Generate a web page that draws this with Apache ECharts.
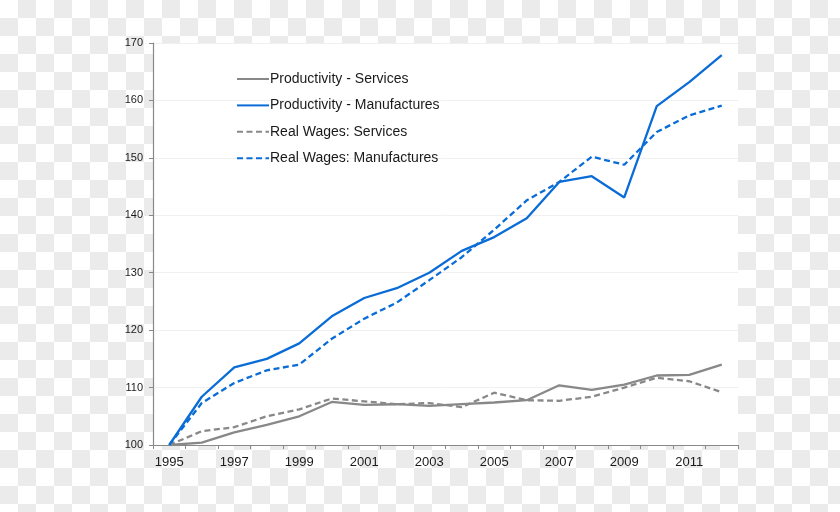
<!DOCTYPE html>
<html>
<head>
<meta charset="utf-8">
<script src="https://cdn.jsdelivr.net/npm/echarts@6/dist/echarts.min.js"></script>
<style>
html,body{margin:0;padding:0;}
body{width:840px;height:512px;background:repeating-conic-gradient(#ebebeb 0 25%, #ffffff 0 50%) 0 0/36px 36px;}
#c{width:840px;height:512px;}
</style>
</head>
<body>
<div id="c"></div>
<script>
const years = ['1995','1996','1997','1998','1999','2000','2001','2002','2003','2004','2005','2006','2007','2008','2009','2010','2011','2012'];
const prodServices = [100,100.4,102.2,103.5,105,107.5,107,107.1,106.8,107.1,107.4,107.8,110.4,109.6,110.5,112.1,112.2,114];
const prodManufactures = [100,108.4,113.5,115,117.7,122.4,125.6,127.3,130,133.8,136.2,139.5,145.8,146.8,143.1,159,163.2,167.9];
const wagesServices = [100,102.4,103.1,105,106.2,108.1,107.6,107.1,107.3,106.6,109.1,107.8,107.7,108.4,110,111.7,111.1,109.2];
const wagesManufactures = [100,107.3,110.8,113,114,118.5,122,124.8,128.7,132.7,137.5,142.6,145.8,150.2,148.8,154.5,157.4,159.1];
const names = ['Productivity - Services','Productivity - Manufactures','Real Wages: Services','Real Wages: Manufactures'];

const gray = '#888888', blue = '#0a6cd6';
const chart = echarts.init(document.getElementById('c'));
function mk(name, data, color, dashed){
  return {name, type:'line', data, symbol:'none', smooth:false,
    lineStyle:{color, width:2.3, type: dashed ? [6,3.5] : 'solid'},
    itemStyle:{color}, z: dashed ? 2 : 3};
}
chart.setOption({
  backgroundColor:'transparent',
  animation:false,
  grid:{left:153, right:102, top:43, bottom:67, show:true, backgroundColor:'#ffffff', borderWidth:0},
  legend:{orient:'vertical', left:236, top:72, padding:0, itemWidth:32, itemHeight:14, itemGap:12.4,
    itemStyle:{color:'transparent', borderWidth:0, opacity:0},
    textStyle:{fontFamily:'Liberation Sans, Arial, sans-serif', fontSize:14, color:'#1a1a1a', padding:[0,0,0,-4]},
    data:names},
  xAxis:{type:'category', data:years, boundaryGap:true,
    axisLine:{lineStyle:{color:'#898989', width:1.2}},
    axisTick:{show:true, length:4, interval:0, lineStyle:{color:'#898989'}},
    axisLabel:{interval:1, fontFamily:'Liberation Sans, Arial, sans-serif', fontSize:13, color:'#1a1a1a', margin:11},
    splitLine:{show:false}},
  yAxis:{type:'value', min:100, max:170, interval:10,
    axisLine:{show:true, lineStyle:{color:'#898989', width:1.2}},
    axisTick:{show:true, length:4, lineStyle:{color:'#898989'}},
    axisLabel:{fontFamily:'Liberation Sans, Arial, sans-serif', fontSize:11, color:'#1a1a1a', margin:10},
    splitLine:{show:true, lineStyle:{color:'#f0f0f0', width:1}}},
  series:[
    mk(names[0], prodServices, gray, false),
    mk(names[1], prodManufactures, blue, false),
    mk(names[2], wagesServices, gray, true),
    mk(names[3], wagesManufactures, blue, true)
  ]
});
</script>
</body>
</html>
